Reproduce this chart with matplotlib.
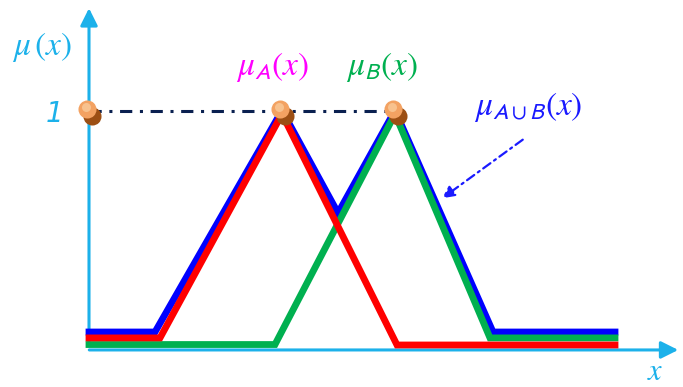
import numpy as np
import matplotlib.pyplot as plt
from matplotlib.transforms import offset_copy

plt.rcParams['mathtext.fontset'] = 'stix'

# Funciones de pertenencia (vertices de cada linea)
xA = [0, 1.42, 3.86, 6.16, 10.52]
yA = [0.051, 0.051, 1.0, 0.021, 0.021]

xB = [0, 3.72, 6.12, 8.02, 10.52]
yB = [0.023, 0.023, 1.0, 0.051, 0.051]

# Union A U B (maximo de ambas)
xU = [0, 1.32, 3.86, 4.98, 6.12, 8.08, 10.52]
yU = [0.076, 0.076, 1.015, 0.58, 1.015, 0.076, 0.076]

# Puntos de valor 1
x_uno = [0, 3.86, 6.12]
y_uno = [1.0, 1.0, 1.0]

cian = '#1cb1ea'

fig = plt.figure(figsize=(6.83, 3.87), dpi=100)
ax = fig.add_axes([0, 0, 1, 1])
ax.set_xlim(-1.78, 11.88)
ax.set_ylim(-0.157, 1.483)
ax.axis('off')

# Ejes con flecha
ax.annotate('', xy=(11.84, 0), xytext=(-0.05, 0),
            arrowprops=dict(arrowstyle='-|>', color=cian, lw=2.2, mutation_scale=26))
ax.annotate('', xy=(0, 1.46), xytext=(0, 0.02),
            arrowprops=dict(arrowstyle='-|>', color=cian, lw=2.2, mutation_scale=26))

# Linea punteada en mu = 1
ax.plot([0, 6.12], [1.013, 1.013], color='#0a2050', lw=2.2,
        dashes=(4, 2.5, 1, 2.5), zorder=2)

# Curvas
ax.plot(xU, yU, color='#0000ff', lw=4.9, solid_joinstyle='miter', zorder=3)
ax.plot(xB, yB, color='#00b050', lw=4.9, solid_joinstyle='miter', zorder=4)
ax.plot(xA, yA, color='#ff0000', lw=4.9, solid_joinstyle='miter', zorder=5)

# Marcadores con sombra
sombra = offset_copy(ax.transData, fig=fig, x=3, y=-2, units='dots')
bola = offset_copy(ax.transData, fig=fig, x=-2, y=5, units='dots')
brillo = offset_copy(ax.transData, fig=fig, x=-3, y=7, units='dots')
ax.plot(x_uno, y_uno, 'o', ms=13, color='#9c4f14', mec='none', transform=sombra, zorder=6)
ax.plot(x_uno, y_uno, 'o', ms=13, color='#f3a262', mec='none', transform=bola, zorder=7)
ax.plot(x_uno, y_uno, 'o', ms=6.5, color='#f8c28e', mec='none', transform=brillo, zorder=8)

# Etiquetas
ax.text(-0.94, 1.284, r'$\mu\,(x)$', color=cian, fontsize=24, ha='center', va='center')
ax.text(-0.70, 1.0, '1', color=cian, fontsize=20, style='italic', ha='center', va='center')
ax.text(3.68, 1.2, r'$\mu_{\mathsf{A}}(x)$', color='#ff00ff', fontsize=24,
        ha='center', va='center')
ax.text(5.86, 1.2, r'$\mu_{\mathsf{B}}(x)$', color='#00b050', fontsize=24,
        ha='center', va='center')
ax.text(8.78, 1.03, r'$\mu_{\mathsf{A\cup B}}(x)$', color='#1a1aff', fontsize=24,
        ha='center', va='center')
ax.text(11.32, -0.09, r'$x$', color=cian, fontsize=22, ha='center', va='center')

# Flecha hacia la union
ax.annotate('', xy=(7.02, 0.636), xytext=(8.72, 0.898),
            arrowprops=dict(arrowstyle='-|>', color='#1a1aff', lw=1.6,
                            linestyle=(0, (4, 2, 1, 2)), mutation_scale=18))

fig.savefig('out.png', dpi=100)
